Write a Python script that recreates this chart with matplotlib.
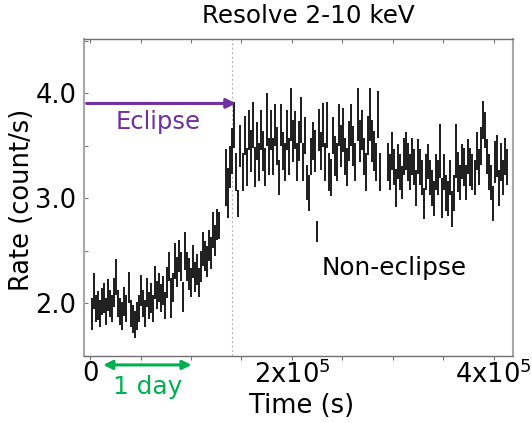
import matplotlib
matplotlib.use("Agg")
import matplotlib.pyplot as plt
from matplotlib.ticker import MultipleLocator
import numpy as np

# ---------------- data (time in ks, rate in count/s) ----------------
ecl_t = [2, 4, 6, 8, 10, 12, 14, 16, 18, 20, 22, 24, 26, 28, 30, 32, 34, 36, 38, 40,
         42, 44, 46, 48, 50, 52, 54, 56, 58, 60, 62, 64, 66, 68, 70, 72, 74, 76, 78, 80,
         82, 84, 86, 88, 90, 92, 94, 96, 98, 100, 102, 104, 106, 108, 110, 112, 114, 116, 118, 120,
         122, 124, 126, 128, 135, 137, 139]
ecl_rate = [1.90, 2.12, 1.95, 1.98, 1.90, 2.02, 2.05, 1.92, 2.08, 2.00,
            1.95, 2.10, 2.25, 2.00, 1.92, 1.88, 2.02, 1.95, 2.15, 1.90,
            1.85, 1.80, 1.88, 1.95, 2.12, 2.00, 1.90, 2.10, 1.98, 2.05,
            1.95, 2.20, 2.08, 2.15, 2.05, 2.12, 1.98, 2.20, 2.35, 2.05,
            2.15, 2.40, 2.30, 2.45, 2.35, 2.06, 2.50, 2.35, 2.28, 2.20,
            2.40, 2.25, 2.32, 2.20, 2.35, 2.52, 2.45, 2.40, 2.55, 2.48,
            2.70, 2.60, 2.75, 2.74, 3.20, 3.05, 3.30]
ecl_err = [0.15, 0.17, 0.13, 0.14, 0.13, 0.13, 0.14, 0.13, 0.15, 0.13,
           0.13, 0.14, 0.17, 0.13, 0.13, 0.13, 0.14, 0.13, 0.15, 0.13,
           0.13, 0.13, 0.13, 0.13, 0.15, 0.13, 0.13, 0.14, 0.13, 0.14,
           0.13, 0.16, 0.13, 0.14, 0.13, 0.14, 0.13, 0.15, 0.14, 0.19,
           0.14, 0.17, 0.14, 0.15, 0.14, 0.14, 0.18, 0.14, 0.15, 0.14,
           0.16, 0.14, 0.15, 0.14, 0.15, 0.16, 0.14, 0.15, 0.15, 0.15,
           0.17, 0.15, 0.15, 0.13, 0.27, 0.24, 0.20]

ne1_t = [141, 143, 145, 147, 149, 151, 153, 155, 157, 159, 161, 163, 165, 167, 169, 171, 173, 175, 177, 179,
         181, 183, 185, 187, 189, 191, 193, 195, 197, 199, 201, 203, 205, 207, 209, 211, 213, 215, 217, 219,
         221, 223, 225, 227, 229, 231, 233, 235, 237, 239, 241, 243, 245, 247, 249, 251, 253, 255, 257, 259,
         261, 263, 265, 267, 269, 271, 273, 275, 277, 279, 281, 283, 285, 287]
ne1_rate = [3.45, 3.70, 3.25, 2.95, 3.50, 3.25, 3.60, 3.30, 3.65, 3.45,
            3.70, 3.30, 3.55, 3.35, 3.65, 3.45, 3.30, 3.75, 3.40, 3.65,
            3.40, 3.70, 3.50, 3.20, 3.70, 3.45, 3.35, 3.65, 3.40, 3.80,
            3.55, 3.65, 3.35, 3.55, 3.75, 3.35, 3.60, 3.15, 3.05, 3.40,
            3.55, 3.45, 2.68, 3.65, 3.45, 3.70, 3.35, 3.70, 3.25, 3.20,
            3.60, 3.40, 3.35, 3.70, 3.50, 3.65, 3.40, 3.30, 3.55, 3.70,
            3.50, 3.35, 3.80, 3.55, 3.65, 3.40, 3.25, 3.60, 3.80, 3.55,
            3.45, 3.35, 3.80, 3.25]
ne1_err = [0.22, 0.22, 0.18, 0.13, 0.20, 0.18, 0.19, 0.18, 0.19, 0.20,
           0.22, 0.19, 0.18, 0.18, 0.19, 0.19, 0.18, 0.25, 0.18, 0.19,
           0.18, 0.20, 0.18, 0.17, 0.20, 0.18, 0.18, 0.19, 0.18, 0.25,
           0.20, 0.18, 0.18, 0.19, 0.22, 0.18, 0.18, 0.17, 0.17, 0.18,
           0.18, 0.20, 0.10, 0.20, 0.18, 0.21, 0.18, 0.22, 0.18, 0.18,
           0.18, 0.19, 0.18, 0.20, 0.20, 0.21, 0.18, 0.18, 0.19, 0.20,
           0.19, 0.18, 0.25, 0.20, 0.19, 0.18, 0.18, 0.19, 0.25, 0.20,
           0.19, 0.18, 0.22, 0.18]

ne2_t = [295, 297, 299, 301, 303, 305, 307, 309, 311, 313, 315, 317, 319, 321, 323, 325, 327, 329, 331, 333,
         335, 337, 339, 341, 343, 345, 347, 349, 351, 353, 355, 357, 359, 361, 363, 365, 367, 369, 371, 373,
         375, 377, 379, 381, 383, 385, 387, 389, 391, 393, 395, 397, 399, 401, 403, 405, 407, 409, 411, 413]
ne2_rate = [3.35, 3.25, 3.45, 3.30, 3.10, 3.35, 3.25, 3.15, 3.40, 3.45,
            3.35, 3.25, 3.40, 3.30, 3.10, 3.40, 3.30, 3.20, 2.95, 3.25,
            3.35, 3.20, 3.10, 3.00, 3.25, 3.20, 3.45, 3.00, 3.25, 3.05,
            3.00, 3.20, 2.90, 3.05, 3.45, 3.25, 3.15, 3.35, 3.30, 3.15,
            3.40, 3.30, 3.25, 3.20, 3.45, 3.30, 3.50, 3.75, 3.65, 3.40,
            3.25, 3.15, 2.95, 3.35, 3.40, 3.10, 3.35, 3.20, 3.40, 3.30]
ne2_err = [0.18, 0.17, 0.18, 0.17, 0.18, 0.17, 0.17, 0.16, 0.18, 0.18,
           0.18, 0.17, 0.18, 0.17, 0.17, 0.17, 0.17, 0.17, 0.15, 0.17,
           0.17, 0.17, 0.17, 0.17, 0.17, 0.17, 0.26, 0.19, 0.17, 0.17,
           0.17, 0.17, 0.17, 0.17, 0.26, 0.19, 0.17, 0.17, 0.18, 0.17,
           0.17, 0.18, 0.17, 0.17, 0.18, 0.17, 0.18, 0.18, 0.17, 0.17,
           0.17, 0.17, 0.17, 0.20, 0.20, 0.17, 0.18, 0.17, 0.18, 0.17]

xtick_pos = [0, 2e5, 4e5]
xtick_labels = ['0', '2x10$^{5}$', '4x10$^{5}$']
ytick_pos = [2.0, 3.0, 4.0]
ytick_labels = ['2.0', '3.0', '4.0']
eclipse_end = 1.41e5
one_day = (1.3e4, 1.005e5)

# ---------------- figure ----------------
fig = plt.figure(figsize=(5.32, 4.23), dpi=100)
ax = fig.add_axes([0.157, 0.159, 0.807, 0.749])

for tt, rr, ee in [(ecl_t, ecl_rate, ecl_err), (ne1_t, ne1_rate, ne1_err), (ne2_t, ne2_rate, ne2_err)]:
    ax.errorbar(np.array(tt) * 1e3, rr, yerr=ee, fmt='none', ecolor='black',
                elinewidth=1.25, capsize=0)

ax.set_xlim(-6600, 419000)
ax.set_ylim(1.5, 4.52)

ax.axvline(eclipse_end, color='#b8b8b8', lw=0.8, ls=(0, (2, 2)), zorder=0)

ax.set_xticks(xtick_pos, xtick_labels)
ax.set_yticks(ytick_pos, ytick_labels)
ax.xaxis.set_minor_locator(MultipleLocator(5e4))
ax.yaxis.set_minor_locator(MultipleLocator(0.5))
ax.tick_params(axis='both', which='major', labelsize=18.5)
ax.tick_params(axis='x', which='both', direction='out', length=3, width=0.8,
               color='#777777', pad=0.5)
ax.tick_params(axis='y', which='both', direction='in', length=3, width=0.8,
               color='#777777', pad=5)

top = ax.secondary_xaxis('top')
top.set_xticks(xtick_pos, ['', '', ''])
top.xaxis.set_minor_locator(MultipleLocator(5e4))
top.tick_params(axis='x', which='both', direction='in', length=3, width=0.8, color='#777777')
top.spines['top'].set_visible(False)

for side in ['left', 'right']:
    ax.spines[side].set_color('#a8a8a8')
    ax.spines[side].set_linewidth(1.5)
for side in ['top', 'bottom']:
    ax.spines[side].set_color('#707070')
    ax.spines[side].set_linewidth(1.0)

purple = '#7030A0'
green = '#00B050'
ax.annotate('', xy=(1.445e5, 3.905), xytext=(-3500, 3.905),
            arrowprops=dict(arrowstyle='-|>', color=purple, lw=2.2,
                            mutation_scale=14, shrinkA=0, shrinkB=0))
ax.text(6.73e4, 3.73, 'Eclipse', color=purple, fontsize=17.5, ha='center', va='center')

ax.annotate('', xy=(one_day[1], -0.029), xytext=(one_day[0], -0.029),
            xycoords=('data', 'axes fraction'), textcoords=('data', 'axes fraction'),
            arrowprops=dict(arrowstyle='<|-|>', color=green, lw=2.2,
                            mutation_scale=13, shrinkA=0, shrinkB=0),
            annotation_clip=False)
ax.annotate('1 day', xy=(5.74e4, -0.098), xycoords=('data', 'axes fraction'),
            color=green, fontsize=17.8, ha='center', va='center', annotation_clip=False)

ax.text(3.016e5, 2.34, 'Non-eclipse', fontsize=17.8, ha='center', va='center')

fig.text(0.579, 0.963, 'Resolve 2-10 keV', fontsize=17.7, ha='center', va='center')
fig.text(0.041, 0.527, 'Rate (count/s)', fontsize=18.5, rotation=90, ha='center', va='center')
fig.text(0.566, 0.040, 'Time (s)', fontsize=18.5, ha='center', va='center')

fig.savefig('out.png', dpi=100)
